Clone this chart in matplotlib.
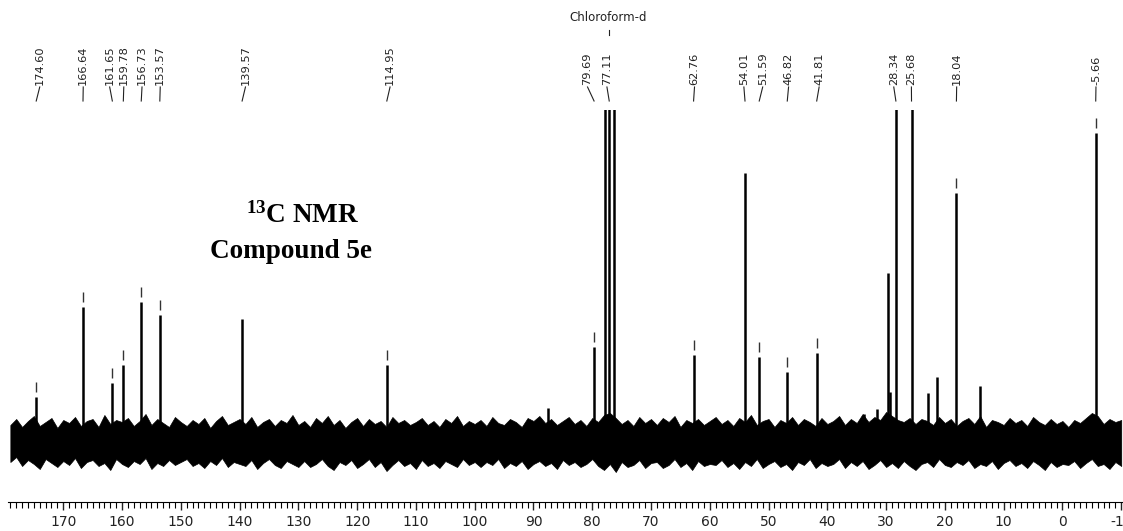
import numpy as np
import matplotlib.pyplot as plt
from matplotlib.ticker import MultipleLocator

plt.rcParams['axes.unicode_minus'] = False
plt.rcParams['mathtext.fontset'] = 'custom'
plt.rcParams['mathtext.bf'] = 'Liberation Serif:bold'
plt.rcParams['mathtext.rm'] = 'Liberation Serif:bold'

# --- Picos del espectro (ppm, intensidad arbitraria) ---
peak_ppm = [174.60, 166.64, 161.65, 159.78, 156.73, 153.57, 139.57, 114.95,
            87.6, 79.69, 77.9, 77.11, 76.3, 62.76, 54.01, 51.59, 46.82, 41.81,
            33.8, 31.6, 29.6, 29.3, 28.34, 25.68, 22.8, 21.3, 18.04, 14.1, -5.66]
peak_int = [43, 133, 57, 75, 138, 125, 121, 75,
            32, 93, 420, 420, 420, 85, 267, 83, 68, 87,
            26, 31, 167, 48, 420, 420, 47, 63, 247, 54, 307]

# --- Marcas de pico (|) encima de los picos asignados ---
mark_ppm = [174.60, 166.64, 161.65, 159.78, 156.73, 153.57, 114.95, 79.69,
            62.76, 51.59, 46.82, 41.81, 18.04, -5.66]
mark_int = [43, 133, 57, 75, 138, 125, 75, 93,
            85, 83, 68, 87, 247, 307]

# --- Etiquetas superiores ---
label_text = ["174.60", "166.64", "161.65", "159.78", "156.73", "153.57", "139.57",
              "114.95", "79.69", "77.11", "62.76", "54.01", "51.59", "46.82",
              "41.81", "28.34", "25.68", "18.04", "-5.66"]
label_peak = [174.60, 166.64, 161.65, 159.78, 156.73, 153.57, 139.57,
              114.95, 79.69, 77.11, 62.76, 54.01, 51.59, 46.82,
              41.81, 28.34, 25.68, 18.04, -5.66]
label_pos = [174.0, 166.6, 162.1, 159.7, 156.6, 153.5, 139.0,
             114.4, 80.8, 77.5, 62.6, 54.2, 51.0, 46.6,
             41.4, 28.7, 25.7, 18.0, -5.7]

# --- Envolvente del ruido de línea base (cada 1 ppm, de 179 a -10) ---
noise_ppm = np.arange(179, -11, -1)
noise_up = [15, 21, 13, 19, 24, 14, 18, 22, 12, 20,
            17, 23, 14, 19, 21, 13, 25, 16, 20, 18,
            22, 14, 19, 26, 15, 21, 17, 13, 23, 18,
            14, 20, 16, 22, 12, 19, 24, 15, 18, 21,
            16, 23, 13, 18, 21, 14, 20, 17, 25, 15,
            19, 13, 22, 17, 24, 15, 20, 12, 18, 22,
            14, 21, 16, 19, 13, 23, 17, 20, 15, 18,
            22, 15, 19, 13, 21, 17, 24, 14, 19, 16,
            20, 14, 23, 17, 15, 21, 18, 13, 22, 19,
            24, 17, 21, 15, 19, 23, 16, 20, 14, 22,
            18, 25, 27, 22, 16, 20, 14, 23, 17, 21,
            15, 22, 18, 24, 13, 20, 17, 21, 15, 19,
            23, 16, 20, 14, 22, 18, 25, 15, 19, 21,
            13, 20, 17, 23, 15, 21, 18, 14, 22, 16,
            19, 24, 15, 21, 17, 26, 18, 23, 20, 28,
            24, 20, 18, 22, 16, 21, 19, 15, 23, 17,
            21, 14, 19, 22, 16, 24, 13, 20, 18, 15,
            22, 17, 20, 14, 23, 18, 15, 21, 16, 19,
            13, 20, 17, 22, 27, 24, 16, 21, 18, 20]
noise_lo = [-22, -17, -26, -20, -24, -29, -19, -23, -27, -21,
            -25, -18, -28, -22, -20, -26, -23, -30, -19, -24,
            -27, -21, -24, -18, -29, -23, -26, -20, -25, -22,
            -19, -26, -23, -28, -21, -25, -18, -27, -22, -24,
            -26, -20, -29, -23, -19, -25, -28, -21, -24, -27,
            -21, -27, -24, -19, -26, -30, -22, -25, -20, -28,
            -24, -19, -27, -22, -31, -25, -20, -26, -23, -29,
            -20, -26, -23, -28, -21, -24, -27, -19, -25, -22,
            -27, -22, -25, -19, -28, -23, -26, -21, -29, -24,
            -21, -26, -23, -29, -20, -25, -22, -27, -24, -19,
            -26, -30, -24, -32, -22, -27, -25, -20, -28, -23,
            -22, -28, -25, -19, -27, -23, -30, -21, -26, -24,
            -25, -20, -27, -23, -29, -22, -26, -19, -28, -24,
            -21, -27, -24, -30, -22, -25, -19, -28, -23, -26,
            -24, -19, -28, -22, -26, -21, -29, -25, -20, -27,
            -23, -28, -21, -26, -30, -24, -22, -27, -19, -25,
            -27, -22, -25, -20, -28, -24, -26, -21, -29, -23,
            -20, -26, -23, -28, -21, -25, -30, -22, -27, -24,
            -25, -21, -28, -23, -19, -26, -24, -29, -22, -26]

fig = plt.figure(figsize=(11.23, 5.31), dpi=100)
ax = fig.add_axes([8 / 1123, 1 - 502 / 531, 1 - 8 / 1123, (502 - 110) / 531])
ax.set_xlim(179.4, -10.3)
ax.set_ylim(-62, 330)

ax.fill_between(noise_ppm, noise_lo, noise_up, color='black', lw=0.5, edgecolor='black')
ax.vlines(peak_ppm, 0, peak_int, color='black', lw=1.8)
ax.vlines(mark_ppm, np.array(mark_int) + 5, np.array(mark_int) + 15, color='#333333', lw=1.0)

for s in ['top', 'left', 'right']:
    ax.spines[s].set_visible(False)
ax.set_yticks([])
ax.xaxis.set_major_locator(MultipleLocator(10))
ax.xaxis.set_minor_locator(MultipleLocator(1))
ax.tick_params(axis='x', which='major', length=6, width=1, labelsize=10, pad=3, colors='#222222')
ax.tick_params(axis='x', which='minor', length=4, width=0.8)

# etiquetas de desplazamiento químico
trans = ax.get_xaxis_transform()
def fy(px):
    # posición vertical en coordenadas de ejes a partir de píxeles de la figura
    return (502 - px) / 392

for txt, pk, pos in zip(label_text, label_peak, label_pos):
    ax.plot([pk, pos], [fy(101), fy(87)], color='#222222', lw=0.8, transform=trans, clip_on=False)
    ax.text(pos, fy(85), txt, rotation=90, ha='center', va='bottom', fontsize=8.2,
            color='#222222', transform=trans, clip_on=False)

ax.text(77.3, fy(18), "Chloroform-d", ha='center', va='center', fontsize=8.5,
        color='#222222', transform=trans, clip_on=False)
ax.plot([77.11, 77.11], [fy(30), fy(35)], color='#222222', lw=0.8, transform=trans, clip_on=False)

fig.text(303 / 1123, 1 - 223 / 531, r"$\mathbf{^{13}}$C NMR", ha='center', va='baseline',
         fontsize=19.5, fontweight='bold', family='Liberation Serif')
fig.text(291 / 1123, 1 - 258 / 531, "Compound 5e", ha='center', va='baseline',
         fontsize=19.5, fontweight='bold', family='Liberation Serif')

fig.savefig('out.png', dpi=100)
